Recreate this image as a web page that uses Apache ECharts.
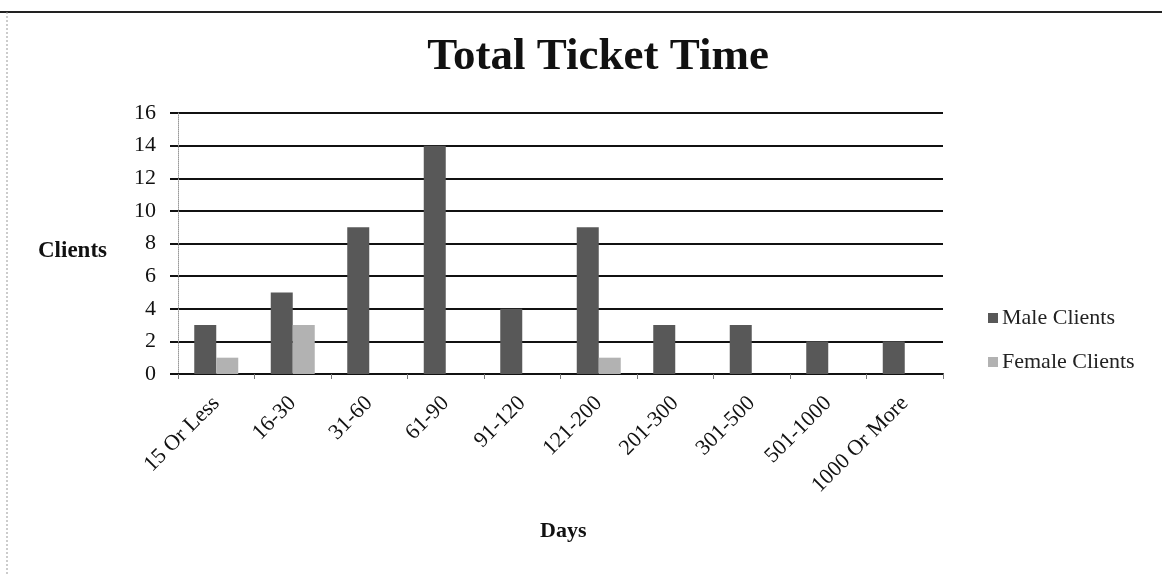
<!DOCTYPE html>
<html>
<head>
<meta charset="utf-8">
<script src="https://cdn.jsdelivr.net/npm/echarts@6/dist/echarts.min.js"></script>
<style>
html,body{margin:0;padding:0;background:#fff;}
#chart{width:1162px;height:575px;}
</style>
</head>
<body>
<div id="chart"></div>
<script>
var categories = ['15 Or Less','16-30','31-60','61-90','91-120','121-200','201-300','301-500','501-1000','1000 Or More'];
var maleClients = [3,5,9,14,4,9,3,3,2,2];
var femaleClients = [1,3,0,0,0,1,0,0,0,0];
var seriesNames = ['Male Clients','Female Clients'];
var yTicks = {min:0, max:16, interval:2};

var FONT = '"Liberation Serif", "DejaVu Serif", serif';
var chart = echarts.init(document.getElementById('chart'), null, {renderer:'canvas'});
chart.setOption({
  backgroundColor:'#fff',
  animation:false,
  title:{
    text:'Total Ticket Time',
    left:593, top:30, textAlign:'center',
    textStyle:{fontFamily:FONT, fontSize:45, fontWeight:'bold', color:'#111'}
  },
  legend:{
    orient:'vertical',
    left:983, top:302,
    itemWidth:10, itemHeight:10, itemGap:22,
    icon:'rect',
    textStyle:{fontFamily:FONT, fontSize:22, color:'#222', padding:[0,0,0,-1]},
    data:seriesNames
  },
  grid:{left:178, right:219, top:113, bottom:201},
  xAxis:{
    type:'category',
    data:categories,
    axisLine:{show:true, lineStyle:{color:'#111', width:2}},
    axisTick:{show:true, length:5, lineStyle:{color:'#777', width:1}},
    axisLabel:{rotate:45, margin:26, fontFamily:FONT, fontSize:22, color:'#111'},
    splitLine:{show:false}
  },
  yAxis:{
    type:'value',
    min:yTicks.min, max:yTicks.max, interval:yTicks.interval,
    axisLine:{show:true, lineStyle:{color:'#999', width:1, type:'dotted'}},
    axisTick:{show:true, length:8, lineStyle:{color:'#111', width:2}},
    axisLabel:{margin:22, fontFamily:FONT, fontSize:22, color:'#111'},
    splitLine:{show:true, lineStyle:{color:'#111', width:2}}
  },
  series:[
    {name:seriesNames[0], type:'bar', data:maleClients, barWidth:22, barGap:'0%',
     itemStyle:{color:'#585858'}},
    {name:seriesNames[1], type:'bar', data:femaleClients, barWidth:22, barGap:'0%',
     itemStyle:{color:'#b2b2b2'}}
  ],
  graphic:[
    {type:'text', left:38, top:240, style:{text:'Clients', font:'bold 23px "Liberation Serif", serif', fill:'#111'}},
    {type:'text', left:540, top:520, style:{text:'Days', font:'bold 22px "Liberation Serif", serif', fill:'#111'}},
    {type:'line', shape:{x1:0, y1:12, x2:1162, y2:12}, style:{stroke:'#222', lineWidth:2}},
    {type:'line', shape:{x1:7, y1:12, x2:7, y2:575}, style:{stroke:'#999', lineWidth:1, lineDash:[2,2]}}
  ]
});
</script>
</body>
</html>
